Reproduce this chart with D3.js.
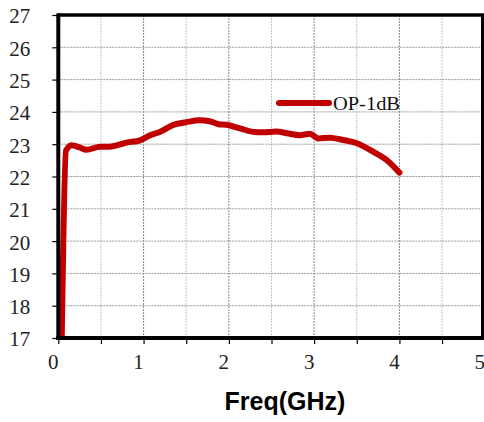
<!DOCTYPE html>
<html><head><meta charset="utf-8">
<script src="https://cdn.jsdelivr.net/npm/d3@7"></script>
<style>body{margin:0;background:#fff}svg{display:block}
.serif{font-family:'Liberation Serif','Times New Roman','DejaVu Serif',serif}</style>
</head><body>
<script>
const freq = [0.04,0.09,0.157,0.25,0.33,0.49,0.6,0.8,0.96,1.07,1.19,1.35,1.50,1.66,1.76,1.88,1.97,2.13,2.29,2.40,2.56,2.68,2.83,2.95,3.05,3.18,3.34,3.50,3.69,3.85,4.0];
const op1dB = [16.9,22.8,22.97,22.9,22.83,22.92,22.92,23.05,23.12,23.27,23.38,23.6,23.68,23.74,23.72,23.62,23.6,23.49,23.38,23.37,23.39,23.34,23.28,23.32,23.18,23.2,23.13,23.03,22.77,22.51,22.12];
const xTicks = [0,1,2,3,4,5];
const yTicks = [17,18,19,20,21,22,23,24,25,26,27];
const seriesName = "OP-1dB";
const xTitle = "Freq(GHz)";

const W=484,H=422;
const svg=d3.select("body").append("svg").attr("width",W).attr("height",H);
const L=58.3,R=484.7,T=15,B=338;
const x=d3.scaleLinear().domain([0,5]).range([L,R]);
const y=d3.scaleLinear().domain([17,27]).range([B,T]);

// grid
const g=svg.append("g");
d3.range(0.5,5,0.5).forEach(v=>{
  const major = Math.abs(v-Math.round(v))<1e-9;
  g.append("line").attr("x1",x(v)).attr("x2",x(v)).attr("y1",T).attr("y2",B)
   .attr("stroke",major?"#8a8a8a":"#c4c4c4").attr("stroke-width",1).attr("stroke-dasharray","2,1");
});
yTicks.filter(v=>v>17&&v<27).forEach(v=>{
  g.append("line").attr("x1",L).attr("x2",R).attr("y1",y(v)).attr("y2",y(v))
   .attr("stroke","#9a9a9a").attr("stroke-width",1).attr("stroke-dasharray","2,1");
});

// axes ticks
const yAxis=d3.axisLeft(y).tickValues(yTicks).tickSize(6).tickPadding(22).tickFormat(d3.format("d"));
const ya=svg.append("g").attr("transform",`translate(${L},0)`).call(yAxis);
ya.attr("font-family",null).attr("font-size",null);
ya.select(".domain").remove();
ya.selectAll(".tick line").attr("stroke","#000").attr("stroke-width",1.2);
ya.selectAll("text").attr("class","serif").style("font-size","21px").attr("fill","#222").attr("dy","0.38em");

const xAxis=d3.axisBottom(x).tickValues(d3.range(0,5.01,0.5)).tickSize(6).tickPadding(10)
  .tickFormat(d=>xTicks.includes(d)?d3.format("d")(d):"");
const xa=svg.append("g").attr("transform",`translate(0,${B})`).call(xAxis);
xa.attr("font-family",null).attr("font-size",null);
xa.select(".domain").remove();
xa.selectAll(".tick line").attr("stroke","#000").attr("stroke-width",1.2);
xa.selectAll("text").attr("class","serif").style("font-size","21px").attr("fill","#222").attr("x",-5.5);

// data line
svg.append("clipPath").attr("id","c").append("rect").attr("x",L).attr("y",T).attr("width",R-L).attr("height",B-T);
svg.append("path").datum(freq.map((f,i)=>[f,op1dB[i]]))
  .attr("clip-path","url(#c)")
  .attr("d",d3.line().x(d=>x(d[0])).y(d=>y(d[1])).curve(d3.curveMonotoneX))
  .attr("fill","none").attr("stroke","#c00000").attr("stroke-width",6).attr("stroke-linejoin","round").attr("stroke-linecap","round");

// frame
svg.append("line").attr("x1",L-1).attr("x2",W).attr("y1",T).attr("y2",T).attr("stroke","#000").attr("stroke-width",3.5);
svg.append("line").attr("x1",482.5).attr("x2",482.5).attr("y1",T).attr("y2",B).attr("stroke","#000").attr("stroke-width",3);
svg.append("line").attr("x1",L).attr("x2",L).attr("y1",T-1.5).attr("y2",B+2).attr("stroke","#000").attr("stroke-width",4);
svg.append("line").attr("x1",L-2).attr("x2",W).attr("y1",B).attr("y2",B).attr("stroke","#000").attr("stroke-width",4);

// legend
svg.append("line").attr("x1",279).attr("x2",329).attr("y1",103).attr("y2",103)
  .attr("stroke","#c00000").attr("stroke-width",6).attr("stroke-linecap","round");
svg.append("text").attr("class","serif").attr("x",333).attr("y",110).text(seriesName)
  .style("font-size","19px").attr("fill","#111")
  .attr("textLength",67).attr("lengthAdjust","spacingAndGlyphs");

// x title
svg.append("text").attr("x",285).attr("y",410).attr("text-anchor","middle").text(xTitle)
  .style("font-family","'Liberation Sans', Arial, sans-serif").attr("font-weight","bold").style("font-size","25px").attr("fill","#000");
</script>
</body></html>
